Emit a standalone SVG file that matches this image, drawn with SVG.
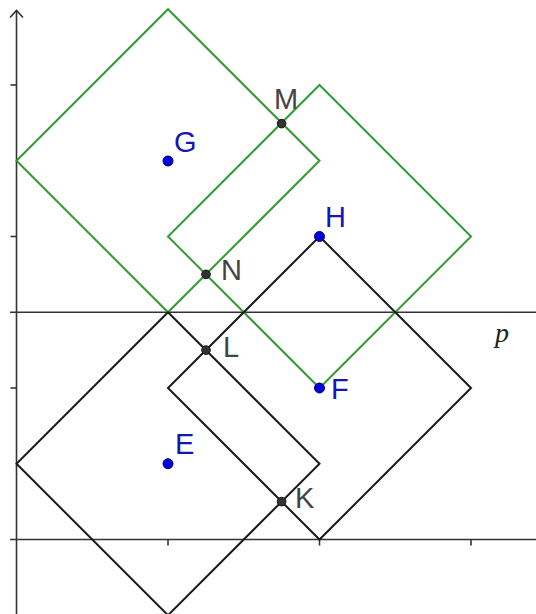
<svg xmlns="http://www.w3.org/2000/svg" width="536" height="614" viewBox="0 0 536 614">
<style>
.axis{stroke:#333;stroke-width:1.6;fill:none}
.green{stroke:#339933;stroke-width:2;fill:none;stroke-linejoin:miter}
.black{stroke:#1a1a1a;stroke-width:2;fill:none;stroke-linejoin:miter}
.pt{fill:#333;stroke:#111;stroke-width:1}
.bpt{fill:#0000dd;stroke:#000080;stroke-width:1}
.lbl{font-family:"Liberation Sans",Arial,sans-serif;font-size:29px;fill:#444}
.blbl{font-family:"Liberation Sans",Arial,sans-serif;font-size:29px;fill:#1515b5}
</style>
<rect width="536" height="614" fill="#fff"/>
<g id="axes">
<line class="axis" x1="16.5" y1="10" x2="16.5" y2="614"/>
<polyline class="axis" points="10,17.5 16.5,10.5 23,17.5"/>
<line class="axis" x1="10" y1="539.5" x2="536" y2="539.5"/>
<line class="axis" x1="10.5" y1="85" x2="16.5" y2="85"/>
<line class="axis" x1="10.5" y1="236.5" x2="16.5" y2="236.5"/>
<line class="axis" x1="10.5" y1="388" x2="16.5" y2="388"/>
<line class="axis" x1="168" y1="539.5" x2="168" y2="545.5"/>
<line class="axis" x1="319.5" y1="539.5" x2="319.5" y2="545.5"/>
<line class="axis" x1="471" y1="539.5" x2="471" y2="545.5"/>
</g>
<g id="line-p">
<line class="axis" x1="10" y1="312.25" x2="536" y2="312.25"/>
<text x="495" y="342" font-family="'Liberation Serif',serif" font-style="italic" font-size="28" fill="#222">p</text>
</g>
<g id="connectors">
<polygon id="sq-green-G" class="green" points="168,9.25 319.5,160.75 168,312.25 16.5,160.75"/>
<polygon id="sq-green-H" class="green" points="319.5,85 471,236.5 319.5,388 168,236.5"/>
<polygon id="sq-black-E" class="black" points="168,312.25 319.5,463.75 168,615.25 16.5,463.75"/>
<polygon id="sq-black-F" class="black" points="319.5,236.5 471,388 319.5,539.5 168,388"/>
</g>
<g id="G"><circle class="bpt" cx="168" cy="161" r="5"/><text class="blbl" x="174" y="152">G</text></g>
<g id="H"><circle class="bpt" cx="319.5" cy="236.5" r="5"/><text class="blbl" x="325" y="227">H</text></g>
<g id="E"><circle class="bpt" cx="168" cy="463.75" r="5"/><text class="blbl" x="175" y="454">E</text></g>
<g id="F"><circle class="bpt" cx="319.5" cy="388" r="5"/><text class="blbl" x="331" y="399">F</text></g>
<g id="M"><circle class="pt" cx="281.6" cy="123.6" r="4.3"/><text class="lbl" x="274" y="109">M</text></g>
<g id="N"><circle class="pt" cx="206" cy="274.4" r="4.3"/><text class="lbl" x="221" y="280">N</text></g>
<g id="L"><circle class="pt" cx="206" cy="350.1" r="4.3"/><text class="lbl" x="223" y="357">L</text></g>
<g id="K"><circle class="pt" cx="281.6" cy="501.6" r="4.3"/><text class="lbl" x="295" y="508">K</text></g>
</svg>
